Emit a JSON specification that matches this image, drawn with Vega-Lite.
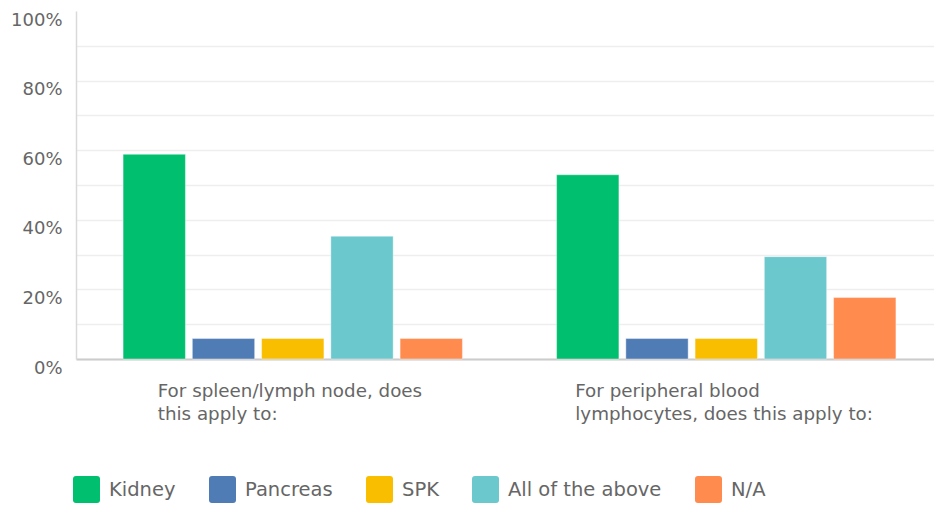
{
  "$schema": "https://vega.github.io/schema/vega-lite/v6.json",
  "width": 858,
  "height": 348,
  "autosize": {"type": "none"},
  "padding": {"left": 76, "top": 11, "right": 0, "bottom": 148},
  "background": "white",
  "config": {
    "view": {"stroke": null},
    "font": "DejaVu Sans"
  },
  "data": {
    "values": [
      {"question": "For spleen/lymph node, does this apply to:", "answer": "Kidney", "pct": 58.82},
      {"question": "For spleen/lymph node, does this apply to:", "answer": "Pancreas", "pct": 5.88},
      {"question": "For spleen/lymph node, does this apply to:", "answer": "SPK", "pct": 5.88},
      {"question": "For spleen/lymph node, does this apply to:", "answer": "All of the above", "pct": 35.29},
      {"question": "For spleen/lymph node, does this apply to:", "answer": "N/A", "pct": 5.88},
      {"question": "For peripheral blood lymphocytes, does this apply to:", "answer": "Kidney", "pct": 52.94},
      {"question": "For peripheral blood lymphocytes, does this apply to:", "answer": "Pancreas", "pct": 5.88},
      {"question": "For peripheral blood lymphocytes, does this apply to:", "answer": "SPK", "pct": 5.88},
      {"question": "For peripheral blood lymphocytes, does this apply to:", "answer": "All of the above", "pct": 29.41},
      {"question": "For peripheral blood lymphocytes, does this apply to:", "answer": "N/A", "pct": 17.65}
    ]
  },
  "mark": {"type": "bar", "stroke": "white", "strokeWidth": 1, "strokeOpacity": 0.4},
  "encoding": {
    "x": {
      "field": "question",
      "type": "nominal",
      "sort": null,
      "scale": {"range": [0, 867], "paddingInner": 0, "paddingOuter": 0},
      "axis": {
        "title": null,
        "ticks": false,
        "domain": true,
        "domainColor": "#cccccc",
        "domainWidth": 2,
        "labelAngle": 0,
        "labelAlign": "left",
        "labelBaseline": "top",
        "labelPadding": 23,
        "labelFont": "DejaVu Sans",
        "labelFontSize": 18.3,
        "labelLineHeight": 23,
        "labelColor": "#666666",
        "labelLimit": 400,
        "labelOffset": {
          "condition": {"test": "datum.value == 'For spleen/lymph node, does this apply to:'", "value": -135},
          "value": -151
        },
        "labelExpr": "datum.value == 'For spleen/lymph node, does this apply to:' ? ['For spleen/lymph node, does', 'this apply to:'] : ['For peripheral blood', 'lymphocytes, does this apply to:']"
      }
    },
    "xOffset": {
      "field": "answer",
      "type": "nominal",
      "sort": ["Kidney", "Pancreas", "SPK", "All of the above", "N/A"],
      "scale": {"paddingInner": 0.1, "paddingOuter": 0.68}
    },
    "y": {
      "field": "pct",
      "type": "quantitative",
      "scale": {"domain": [0, 100], "nice": false},
      "axis": {
        "title": null,
        "values": [0, 10, 20, 30, 40, 50, 60, 70, 80, 90, 100],
        "ticks": false,
        "domain": true,
        "domainColor": "#d9d9d9",
        "domainWidth": 1.5,
        "gridColor": "#eeeeee",
        "gridWidth": 1.5,
        "gridOpacity": {"condition": {"test": "datum.value == 100", "value": 0}, "value": 1},
        "labelExpr": "datum.value % 20 == 0 ? datum.value + '%' : ''",
        "labelBaseline": "top",
        "labelPadding": 14,
        "labelFont": "DejaVu Sans",
        "labelFontSize": 18,
        "labelColor": "#666666"
      }
    },
    "color": {
      "field": "answer",
      "type": "nominal",
      "sort": ["Kidney", "Pancreas", "SPK", "All of the above", "N/A"],
      "scale": {
        "domain": ["Kidney", "Pancreas", "SPK", "All of the above", "N/A"],
        "range": ["#00bf6f", "#507cb6", "#f9be00", "#6bc8cd", "#ff8b4f"]
      },
      "legend": {
        "title": null,
        "orient": "none",
        "direction": "horizontal",
        "legendX": -3,
        "legendY": 465,
        "symbolType": "M-0.78,-1L0.78,-1Q1,-1 1,-0.78L1,0.78Q1,1 0.78,1L-0.78,1Q-1,1 -1,0.78L-1,-0.78Q-1,-1 -0.78,-1Z",
        "symbolSize": 729,
        "symbolStrokeWidth": 0,
        "symbolOpacity": 1,
        "labelFont": "DejaVu Sans",
        "labelFontSize": 19.5,
        "labelColor": "#666666",
        "labelOffset": 9,
        "columnPadding": 33,
        "labelLimit": 300
      }
    }
  }
}
